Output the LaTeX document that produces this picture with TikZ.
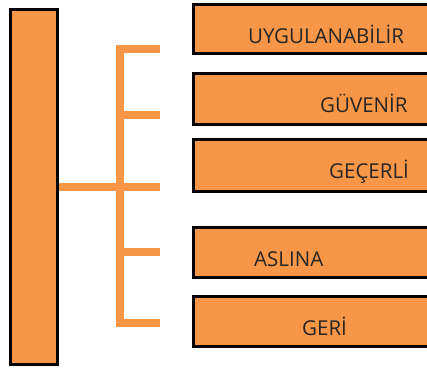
\documentclass[tikz,border=0pt]{standalone}
\usepackage{fontspec}
\setmainfont{Open Sans}
\definecolor{boxorange}{HTML}{F79646}
\definecolor{labelgray}{HTML}{262626}
\begin{document}
\begin{tikzpicture}[x=1pt,y=-1pt,
  panel/.style={draw=black,line width=3pt,fill=boxorange,rectangle,inner sep=0pt},
  item/.style={panel,outer sep=0pt,anchor=north west,minimum width=246.5pt},
  lbl/.style={anchor=base west,inner sep=0pt,text=labelgray,font=\fontsize{20.5}{23}\selectfont},
  branch/.style={draw=boxorange,line width=8pt,line cap=butt,line join=miter}]
\useasboundingbox (0,0) rectangle (427,368);
\clip (0,0) rectangle (427,368);
% left column
\node[panel,minimum width=47pt,minimum height=355pt] (col) at (34,187) {};
% right-hand boxes (run past the right edge)
\node[item,minimum height=49pt] (b1) at (193.5,4.5) {};
\node[item,minimum height=51pt] (b2) at (193.5,73.5) {};
\node[item,minimum height=52pt] (b3) at (193.5,139.5) {};
\node[item,minimum height=50pt] (b4) at (193.5,227.5) {};
\node[item,minimum height=50pt] (b5) at (193.5,296.5) {};
% labels
\node[lbl] (t1) at (248,43.3) {UYGULANABİLİR};
\node[lbl] (t2) at (320,112.7) {GÜVENİR};
\node[lbl] (t3) at (329,178) {GEÇERLİ};
\node[lbl] (t4) at (254,266) {ASLINA};
\node[lbl] (t5) at (302,335) {GERİ};
% bracket
\coordinate (spine) at (120,187);
\coordinate (e1) at (160,49);
\coordinate (e2) at (160,115);
\coordinate (e3) at (160,187);
\coordinate (e4) at (160,252);
\coordinate (e5) at (160,323);
\draw[branch] (e1) -- (e1 -| spine) -- (e5 -| spine) -- (e5);
\draw[branch] (spine |- e2) -- (e2);
\draw[branch] (spine |- e4) -- (e4);
\draw[branch] (col.east |- e3) -- (e3);
\end{tikzpicture}
\end{document}
